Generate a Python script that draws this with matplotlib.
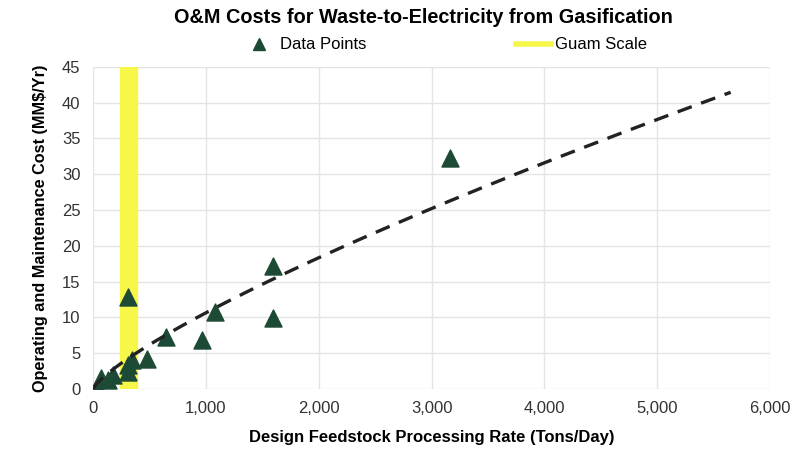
# O&M cost vs. design feedstock rate for gasification plants
import numpy as np
import matplotlib.pyplot as plt
from matplotlib.ticker import FuncFormatter
from matplotlib.lines import Line2D

# data
rate_tpd = [42, 71, 130, 180, 313, 313, 343, 313, 482, 647, 963, 1082, 1592, 1592, 3165]
om_cost = [0.3, 1.5, 1.2, 2.0, 2.4, 3.3, 4.0, 12.9, 4.2, 7.3, 6.8, 10.8, 17.2, 9.9, 32.2]

# Guam scale band (tons/day)
guam_lo, guam_hi = 240, 390

# power trendline as drawn in the chart (y = a * x^b), ends near 5650 TPD
trend_a, trend_b = 0.0466, 0.786
trend_end = 5650

plt.rcParams['font.family'] = ['Liberation Sans', 'DejaVu Sans']

fig = plt.figure(figsize=(8.09, 4.58), dpi=100)
ax = fig.add_axes([0.115, 0.151, 0.837, 0.703])

ax.axvspan(guam_lo, guam_hi, color='#f7f74a', zorder=1)
ax.scatter(rate_tpd, om_cost, marker='^', s=150, color='#1d4a35', zorder=3)

xt = np.linspace(0, trend_end, 200)
ax.plot(xt, trend_a * xt ** trend_b, ls=(0, (4.5, 3)), color='#222222', lw=2.4, zorder=4)

ax.set_xlim(0, 6000)
ax.set_ylim(0, 45)
ax.set_xticks(range(0, 6001, 1000))
ax.set_yticks(range(0, 46, 5))
ax.xaxis.set_major_formatter(FuncFormatter(lambda v, p: f"{int(v):,}"))
ax.grid(True, color='#e4e4e4', lw=1)
ax.set_axisbelow(True)
for s in ax.spines.values():
    s.set_visible(False)
ax.tick_params(length=0, labelsize=12, colors='#333333', pad=9)

ax.set_xlabel('Design Feedstock Processing Rate (Tons/Day)', fontsize=12, fontweight='bold', labelpad=10)
ax.set_ylabel('Operating and Maintenance Cost (MM$/Yr)', fontsize=11.7, fontweight='bold', labelpad=10)
fig.text(0.523, 0.962, 'O&M Costs for Waste-to-Electricity from Gasification',
         ha='center', va='center', fontsize=14.3, fontweight='bold')

handles = [Line2D([], [], marker='^', ls='none', color='#1d4a35', markersize=8),
           Line2D([], [], color='#f7f74a', lw=4)]
fig.legend(handles, ['Data Points', 'Guam Scale'], loc='center', bbox_to_anchor=(0.549, 0.902),
           ncol=2, frameon=False, fontsize=12, columnspacing=9, handlelength=2.1, handletextpad=0.2)

fig.savefig('out.png', dpi=100)
